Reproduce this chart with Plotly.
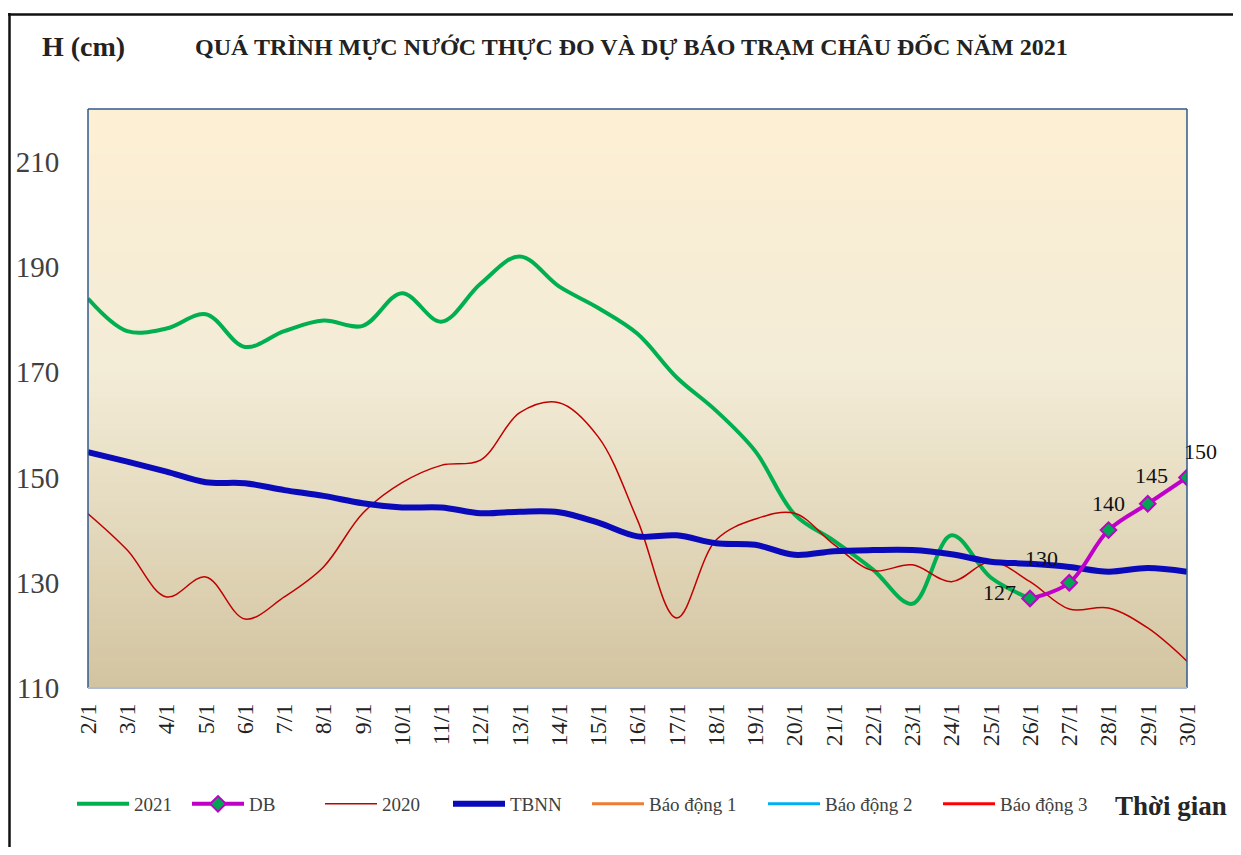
import plotly.graph_objects as go

days = ["2/1","3/1","4/1","5/1","6/1","7/1","8/1","9/1","10/1","11/1","12/1","13/1","14/1","15/1",
        "16/1","17/1","18/1","19/1","20/1","21/1","22/1","23/1","24/1","25/1","26/1","27/1","28/1","29/1","30/1"]

h2021 = [184, 177.8, 178.3, 181, 174.8, 177.8, 179.8, 178.8, 185, 179.6, 186.8, 192, 186.3, 182.2,
         177.3, 169, 162.7, 155, 143, 138, 132.5, 126, 139, 131, 127]
db_days = ["26/1","27/1","28/1","29/1","30/1"]
db_vals = [127, 130, 140, 145, 150]
h2020 = [143.1, 136.2, 127.3, 131.1, 123.1, 127.3, 133, 143.2, 149, 152.3, 153.3, 162.3, 164.2, 157.7,
         141.9, 123.3, 138.1, 142.1, 143.2, 137.3, 132.3, 133.4, 130.2, 134, 130.2, 125, 125.2, 121.4, 115.1]
tbnn = [154.8, 153, 151.1, 149.1, 148.9, 147.6, 146.5, 145.1, 144.3, 144.3, 143.2, 143.5, 143.4, 141.4,
        138.8, 139, 137.5, 137.2, 135.3, 136, 136.2, 136.2, 135.4, 134, 133.6, 133, 132.1, 132.8, 132.1]
bd1, bd2, bd3 = 350, 400, 450
yticks = [110, 130, 150, 170, 190, 210]

SERIF = "Liberation Serif, Times New Roman, serif"

# screen-pixel helpers (page body has an 8px margin)
OFF = 8
W, H = 1241, 855
L, R, T, B = 88, 1187, 109, 688          # plot area in screen pixels
def px(xp): return (xp - L) / (R - L)
def py(yp): return (B - yp) / (B - T)

fig = go.Figure()

fig.add_trace(go.Scatter(x=days[:len(h2021)], y=h2021, name="2021", mode="lines",
                         line=dict(color="#00B050", width=4, shape="spline", smoothing=1.0),
                         legend="legend"))
fig.add_trace(go.Scatter(x=days, y=h2020, name="2020", mode="lines",
                         line=dict(color="#C00000", width=1.5, shape="spline", smoothing=1.0),
                         legend="legend3"))
fig.add_trace(go.Scatter(x=days, y=tbnn, name="TBNN", mode="lines",
                         line=dict(color="#0A0ABA", width=6, shape="spline", smoothing=1.0),
                         legend="legend4"))
fig.add_trace(go.Scatter(x=days, y=[bd1]*len(days), name="Báo động 1", mode="lines",
                         line=dict(color="#ED7D31", width=3), legend="legend5"))
fig.add_trace(go.Scatter(x=days, y=[bd2]*len(days), name="Báo động 2", mode="lines",
                         line=dict(color="#00B0F0", width=3), legend="legend6"))
fig.add_trace(go.Scatter(x=days, y=[bd3]*len(days), name="Báo động 3", mode="lines",
                         line=dict(color="#FF0000", width=3), legend="legend7"))
fig.add_trace(go.Scatter(x=db_days, y=db_vals, name="DB", mode="lines+markers",
                         line=dict(color="#C000C8", width=4, shape="spline", smoothing=1.0),
                         marker=dict(symbol="diamond", size=12, color="#00A651",
                                     line=dict(color="#C000C8", width=2)),
                         legend="legend2"))

# data labels for the forecast points
label_shift = [(-31, 6), (-28, 24), (0, 27), (4, 28), (13, 26)]
annotations = []
for d, v, (dx, dy) in zip(db_days, db_vals, label_shift):
    annotations.append(dict(x=d, y=v, xref="x", yref="y", text=str(v), showarrow=False,
                            xshift=dx, yshift=dy, xanchor="center", yanchor="middle",
                            font=dict(family=SERIF, size=22, color="#111111")))

# background gradient bands
def lerp(c1, c2, t):
    return tuple(round(a + (b - a) * t) for a, b in zip(c1, c2))

stops = [(0.0, (253, 239, 211)), (0.45, (243, 236, 215)), (1.0, (210, 196, 160))]
N = 90
shapes = []
for i in range(N):
    t = (i + 0.5) / N
    for j in range(len(stops) - 1):
        if stops[j][0] <= t <= stops[j + 1][0]:
            tt = (t - stops[j][0]) / (stops[j + 1][0] - stops[j][0])
            c = lerp(stops[j][1], stops[j + 1][1], tt)
            break
    shapes.append(dict(type="rect", xref="x domain", yref="y domain", x0=0, x1=1,
                       y0=max(0, 1 - (i + 1) / N - 0.002), y1=1 - i / N, fillcolor="rgb(%d,%d,%d)" % c,
                       line=dict(width=0), layer="below"))

border = "#2F5A8C"
shapes += [
    dict(type="line", xref="x domain", yref="y domain", x0=0, x1=0, y0=0, y1=1, line=dict(color=border, width=1.5)),
    dict(type="line", xref="x domain", yref="y domain", x0=1, x1=1, y0=0, y1=1, line=dict(color=border, width=1.5)),
    dict(type="line", xref="x domain", yref="y domain", x0=0, x1=1, y0=1, y1=1, line=dict(color=border, width=1.5)),
    dict(type="line", xref="x domain", yref="y domain", x0=0, x1=1, y0=0, y1=0, line=dict(color="#AEBBD2", width=2)),
]
# outer black frame
shapes += [
    dict(type="line", xref="paper", yref="paper", x0=px(9.5), x1=px(9.5), y0=py(13), y1=py(870), line=dict(color="#111111", width=2.5)),
    dict(type="line", xref="paper", yref="paper", x0=px(8), x1=px(1250), y0=py(14.5), y1=py(14.5), line=dict(color="#111111", width=2.5)),
]

annotations += [
    dict(text="<b>H (cm)</b>", xref="paper", yref="paper", x=px(40), y=py(46), xanchor="left", yanchor="middle",
         showarrow=False, font=dict(family=SERIF, size=28, color="#222222")),
    dict(text="<b>QUÁ TRÌNH MỰC NƯỚC THỰC ĐO VÀ DỰ BÁO TRẠM CHÂU ĐỐC NĂM 2021</b>", xref="paper", yref="paper",
         x=px(193), y=py(47), xanchor="left", yanchor="middle", showarrow=False,
         font=dict(family=SERIF, size=24, color="#222222")),
    dict(text="<b>Thời gian</b>", xref="paper", yref="paper", x=px(1229), y=py(806), xanchor="right", yanchor="middle",
         showarrow=False, font=dict(family=SERIF, size=27, color="#262626")),
]

legend_starts = [77, 192, 325, 453, 592, 768, 943]
legend_font = dict(family=SERIF, size=19, color="#404040")
legends = {}
for k, xs in enumerate(legend_starts):
    key = "legend" if k == 0 else "legend%d" % (k + 1)
    legends[key] = dict(orientation="h", x=px(xs - 5), y=py(804), xanchor="left", yanchor="middle",
                        font=legend_font, itemwidth=52, bgcolor="rgba(0,0,0,0)", borderwidth=0)

fig_h = H - 2 * OFF
fig.update_layout(
    width=W - OFF, height=fig_h,
    margin=dict(l=L - OFF, r=W - R, t=T - OFF, b=fig_h - (B - OFF), autoexpand=False),
    paper_bgcolor="white", plot_bgcolor="rgba(0,0,0,0)",
    shapes=shapes, annotations=annotations,
    showlegend=True,
    xaxis=dict(type="category", categoryorder="array", categoryarray=days, range=[0, len(days) - 1],
               showgrid=False, zeroline=False, showline=False, tickangle=-90,
               ticks="outside", ticklen=5, tickcolor="rgba(0,0,0,0)",
               tickfont=dict(family=SERIF, size=24, color="#222222")),
    yaxis=dict(range=[110, 220], tickvals=yticks, showgrid=False, zeroline=False, showline=False,
               ticks="outside", ticklen=22, tickcolor="rgba(0,0,0,0)",
               tickfont=dict(family=SERIF, size=29, color="#404040")),
    **legends,
)

fig.write_html("out.html")
